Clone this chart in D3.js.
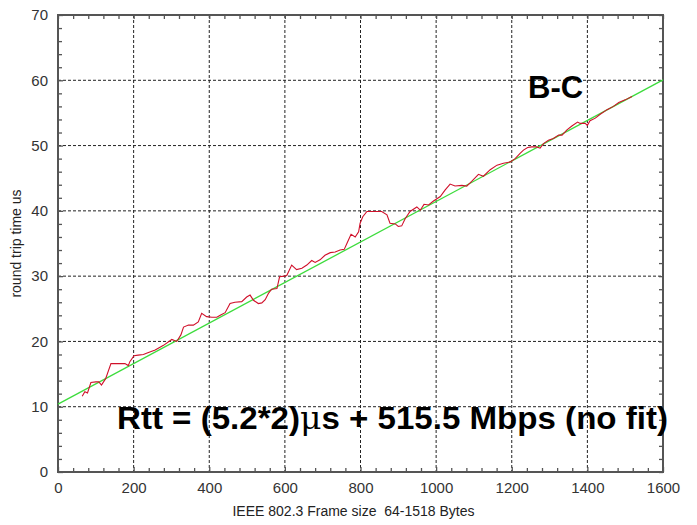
<!DOCTYPE html>
<html>
<head>
<meta charset="utf-8">
<script src="https://cdn.jsdelivr.net/npm/d3@7"></script>
<style>
body { margin:0; background:#fff; }
text { font-family: "Liberation Sans", Arial, Helvetica, sans-serif; }
</style>
</head>
<body>
<div id="chart"></div>
<script>
var margin = {top:15, right:34, bottom:53, left:58}, width = 697 - margin.left - margin.right, height = 525 - margin.top - margin.bottom;

// measured round trip times (red)
var frameSize = [64,71,78,87,100,108,115,126,140,177,186,190,201,212,226,234,257,279,301,314,325,332,345,358,371,380,393,407,420,429,
                 442,455,468,486,499,508,517,530,539,548,557,565,579,586,598,605,618,631,645,658,671,680,693,706,720,733,746,757,764,775,
                 786,795,799,806,817,834,856,870,878,892,900,909,918,931,949,958,968,980,993,1011,1024,1037,1050,1068,1081,1094,1112,1125,1143,1161,
                 1178,1196,1209,1222,1231,1242,1253,1266,1275,1284,1297,1310,1324,1333,1346,1359,1374,1381,1394,1400,1407,1421,1434,1452,1469,1483,1500,1518]
var rtt = [11.6,12.3,12.1,13.7,13.8,13.8,13.3,14.3,16.6,16.6,16.3,16.9,17.8,17.9,18.0,18.2,18.7,19.4,20.3,20.0,21.0,22.2,22.5,22.5,23.0,24.3,23.8,23.7,23.7,24.0,
           24.4,25.8,26.0,26.1,26.8,27.1,26.3,25.8,25.9,26.4,27.4,28.0,28.1,29.9,30.0,30.1,31.7,31.0,31.2,31.7,32.4,32.1,32.5,33.2,33.6,33.7,34.0,34.1,35.0,36.4,
           36.0,36.8,38.1,39.1,39.9,39.9,39.9,39.4,38.1,38.0,37.6,37.7,38.8,39.9,40.6,40.1,41.0,40.9,41.5,42.2,43.2,44.1,43.8,43.9,43.8,44.5,45.6,45.3,46.3,47.0,
           47.3,47.5,48.0,48.8,49.3,49.7,49.8,49.8,49.6,50.3,50.8,51.1,51.6,51.6,52.4,53.0,53.6,53.4,53.4,53.1,53.8,54.2,54.8,55.5,56.0,56.6,57.0,57.5]

// model line (green), end points
var fitX = [0, 1600]
var fitY = [10.4, 60.06]

var xTicks = [0,200,400,600,800,1000,1200,1400,1600]
var yTicks = [0,10,20,30,40,50,60,70]

var xScale = d3.scaleLinear().domain([0,1600]).range([0,width])
var yScale = d3.scaleLinear().domain([0,70]).range([height,0])

var xMinor = d3.range(0,1601,40).filter(function(v){ return v % 200 != 0 })
var yMinor = d3.range(0,71,2).filter(function(v){ return v % 10 != 0 })

var svg = d3.select("#chart").append("svg")
    .attr("width", width + margin.left + margin.right)
    .attr("height", height + margin.top + margin.bottom)
    .append("g")
    .attr("transform", "translate(" + margin.left + "," + margin.top + ")");

//grid
svg.append("g").selectAll("line").data(xTicks.slice(1,-1)).enter().append("line")
    .attr("x1", xScale).attr("x2", xScale).attr("y1", 0).attr("y2", height)
    .attr("stroke", "#222").attr("stroke-width", 1).attr("stroke-dasharray", "3,2")
svg.append("g").selectAll("line").data(yTicks.slice(1,-1)).enter().append("line")
    .attr("y1", yScale).attr("y2", yScale).attr("x1", 0).attr("x2", width)
    .attr("stroke", "#222").attr("stroke-width", 1).attr("stroke-dasharray", "3,2")

//axes, ticks point inside
function styleAxis(g){
    g.select(".domain").remove()
    g.selectAll(".tick line").attr("stroke", "#555").attr("stroke-width", 1.3)
    g.selectAll(".tick text").attr("fill", "#333").style("font-size", "15px")
        .style("font-family", "'Liberation Sans', Arial, sans-serif")
}
svg.append("g").attr("transform", "translate(0," + height + ")")
    .call(d3.axisBottom(xScale).tickValues(xTicks).tickSizeInner(-5).tickSizeOuter(0).tickPadding(10).tickFormat(d3.format("d")))
    .call(styleAxis)
svg.append("g").attr("transform", "translate(0," + height + ")")
    .call(d3.axisBottom(xScale).tickValues(xMinor).tickSizeInner(-4).tickSizeOuter(0).tickFormat(""))
    .call(styleAxis)
svg.append("g")
    .call(d3.axisTop(xScale).tickValues(xTicks.concat(xMinor)).tickSizeInner(-4).tickSizeOuter(0).tickFormat(""))
    .call(styleAxis)
svg.append("g")
    .call(d3.axisLeft(yScale).tickValues(yTicks).tickSizeInner(-5).tickSizeOuter(0).tickPadding(10))
    .call(styleAxis)
svg.append("g")
    .call(d3.axisLeft(yScale).tickValues(yMinor).tickSizeInner(-4).tickSizeOuter(0).tickFormat(""))
    .call(styleAxis)
svg.append("g").attr("transform", "translate(" + width + ",0)")
    .call(d3.axisRight(yScale).tickValues(yTicks.concat(yMinor)).tickSizeInner(-4).tickSizeOuter(0).tickFormat(""))
    .call(styleAxis)

//frame
svg.append("rect").attr("x", 0).attr("y", 0).attr("width", width).attr("height", height)
    .attr("fill", "none").attr("stroke", "#555").attr("stroke-width", 2)

//lines
var line = d3.line().x(function(d){ return xScale(d[0]) }).y(function(d){ return yScale(d[1]) })
svg.append("path").datum(fitX.map(function(v,i){ return [v, fitY[i]] }))
    .attr("d", line).attr("fill", "none").attr("stroke", "#3ddc3d").attr("stroke-width", 1.3)
svg.append("path").datum(frameSize.map(function(v,i){ return [v, rtt[i]] }))
    .attr("d", line).attr("fill", "none").attr("stroke", "#d0102a").attr("stroke-width", 1.1)

//axis titles
svg.append("text").attr("x", width/2 - 7).attr("y", height + 44)
    .attr("text-anchor", "middle").style("font-size", "14px").style("white-space", "pre").attr("fill", "#222")
    .text("IEEE 802.3 Frame size  64-1518 Bytes")
svg.append("text").attr("transform", "translate(" + (-37) + "," + (height/2) + ") rotate(-90)")
    .attr("text-anchor", "middle").style("font-size", "14px").attr("fill", "#222")
    .text("round trip time us")

//annotations
svg.append("text").attr("x", 470).attr("y", 83)
    .style("font-size", "31px").style("font-weight", "bold").attr("fill", "#000")
    .text("B-C")
var rttLabel = svg.append("text").attr("x", 59).attr("y", 414)
    .attr("textLength", 551).attr("lengthAdjust", "spacingAndGlyphs")
    .style("font-size", "31px").style("font-weight", "bold").attr("fill", "#000")
rttLabel.append("tspan").text("Rtt = (5.2*2)")
rttLabel.append("tspan").style("font-family", "'DejaVu Serif', serif").style("font-weight", "normal").text("\u03bc")
rttLabel.append("tspan").text("s + 515.5 Mbps (no fit)")
</script>
</body>
</html>
